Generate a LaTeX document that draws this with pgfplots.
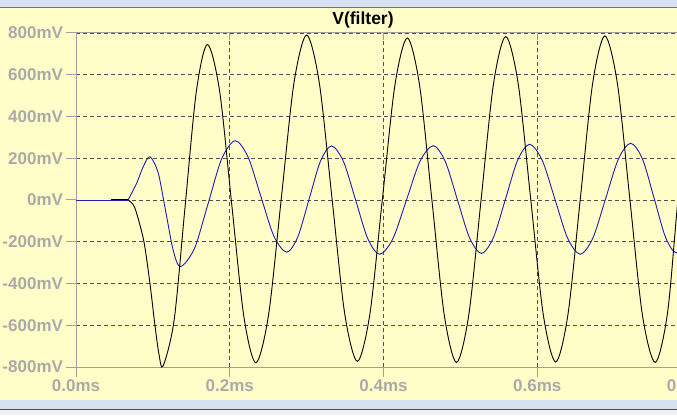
\documentclass[border=0pt]{standalone}
\usepackage{fontspec}
\setmainfont{Liberation Sans}
\usepackage{pgfplots}
\pgfplotsset{compat=1.18}
\definecolor{bgyellow}{RGB}{255,253,200}
\definecolor{winblue}{RGB}{214,226,242}
\definecolor{winframe}{RGB}{240,240,240}
\definecolor{labelgray}{RGB}{170,170,170}
\definecolor{axisgray}{RGB}{160,160,160}
\definecolor{gridgray}{RGB}{80,80,80}
\definecolor{traceblue}{RGB}{30,30,180}

\begin{document}
\begin{tikzpicture}
\useasboundingbox (0,0) rectangle (677pt,415pt);
\clip (0,0) rectangle (677pt,415pt);
% window pieces round the plot pane
\fill[winframe] (0,0) rectangle (677pt,415pt);
\fill[winblue] (0,6pt) rectangle (677pt,15.5pt);
\draw[black!70, line width=1pt] (0,5.5pt) -- (677pt,5.5pt);
\fill[bgyellow] (0,15.5pt) rectangle (677pt,407.5pt);
\fill[winblue] (0,407.5pt) rectangle (677pt,415pt);
\draw[black!55, line width=1pt] (0,407.5pt) -- (677pt,407.5pt);
\node[font=\bfseries\fontsize{17.5}{19}\selectfont] at (363pt,395.5pt) {V(filter)};
\begin{axis}[
    at={(76pt,48pt)}, anchor=south west,
    scale only axis,
    width=615pt, height=334pt,
    xmin=0, xmax=0.8,
    ymin=-800, ymax=800,
    xtick={0,0.2,0.4,0.6,0.8},
    xticklabels={0.0ms,0.2ms,0.4ms,0.6ms,0.8ms},
    ytick={-800,-600,-400,-200,0,200,400,600,800},
    yticklabels={-800mV,-600mV,-400mV,-200mV,0mV,200mV,400mV,600mV,800mV},
    tick pos=left,
    tick align=outside,
    major tick length=9.5pt,
    every tick/.style={axisgray, line width=1pt},
    ticklabel style={font=\bfseries\fontsize{17}{17}\selectfont, text=labelgray},
    grid=major,
    major grid style={gridgray, line width=0.9pt, dash pattern=on 4pt off 3pt},
    axis line style={axisgray, line width=1pt},
    clip=true,
]
% flat start of both traces
\addplot[traceblue, line width=0.9pt] coordinates {(0,0) (0.0677,0)};
\addplot[traceblue, line width=0.9pt, smooth] coordinates {
(0.0677,0) (0.0789,80) (0.0875,160) (0.0962,207)
(0.1069,130) (0.1168,-57) (0.1266,-243) (0.1360,-319)
(0.1541,-232) (0.1718,-18) (0.1894,196) (0.2070,284)
(0.2238,206) (0.2405,17) (0.2573,-172) (0.2740,-250)
(0.2886,-176) (0.3033,5) (0.3179,185) (0.3325,259)
(0.3481,183) (0.3638,-1) (0.3794,-184) (0.3950,-260)
(0.4124,-184) (0.4299,0) (0.4473,184) (0.4647,260)
(0.4804,184) (0.4961,2) (0.5118,-180) (0.5275,-256)
(0.5431,-179) (0.5588,6) (0.5744,190) (0.5900,267)
(0.6065,190) (0.6230,4) (0.6395,-183) (0.6560,-260)
(0.6724,-182) (0.6889,6) (0.7053,194) (0.7215,272)
(0.7370,195) (0.7520,9) (0.7668,-178) (0.7810,-253)
(0.7970,-180)
};
\addplot[black, line width=0.9pt] coordinates {(0.0455,0.8) (0.0677,0.8)};
\addplot[black, line width=0.9pt, smooth] coordinates {
(0.0677,0) (0.0740,-20) (0.0789,-64) (0.0884,-200)
(0.0962,-400) (0.1027,-600) (0.1080,-740) (0.1133,-795)
(0.1277,-574) (0.1420,-28) (0.1565,519) (0.1710,745)
(0.1868,522) (0.2025,-18) (0.2183,-557) (0.2340,-780)
(0.2505,-550) (0.2670,5) (0.2835,560) (0.3000,790)
(0.3165,561) (0.3330,9) (0.3495,-544) (0.3660,-773)
(0.3823,-546) (0.3985,2) (0.4148,549) (0.4310,776)
(0.4470,548) (0.4630,-1) (0.4790,-550) (0.4950,-778)
(0.5110,-549) (0.5270,3) (0.5430,554) (0.5590,783)
(0.5753,555) (0.5915,4) (0.6078,-548) (0.6240,-776)
(0.6400,-547) (0.6560,5) (0.6720,557) (0.6880,786)
(0.7043,557) (0.7205,3) (0.7368,-551) (0.7535,-778)
(0.7695,-540) (0.7830,0) (0.7990,556)
};
\end{axis}
% short inner ticks along the top border
\begin{axis}[
    at={(76pt,48pt)}, anchor=south west,
    scale only axis,
    width=615pt, height=334pt,
    xmin=0, xmax=0.8,
    ymin=-800, ymax=800,
    axis x line*=top,
    axis y line=none,
    x axis line style={draw=none},
    xtick={0.2,0.4,0.6},
    xticklabels={},
    tick align=inside,
    major tick length=7pt,
    every tick/.style={axisgray, line width=1pt},
]
\end{axis}
\end{tikzpicture}
\end{document}
